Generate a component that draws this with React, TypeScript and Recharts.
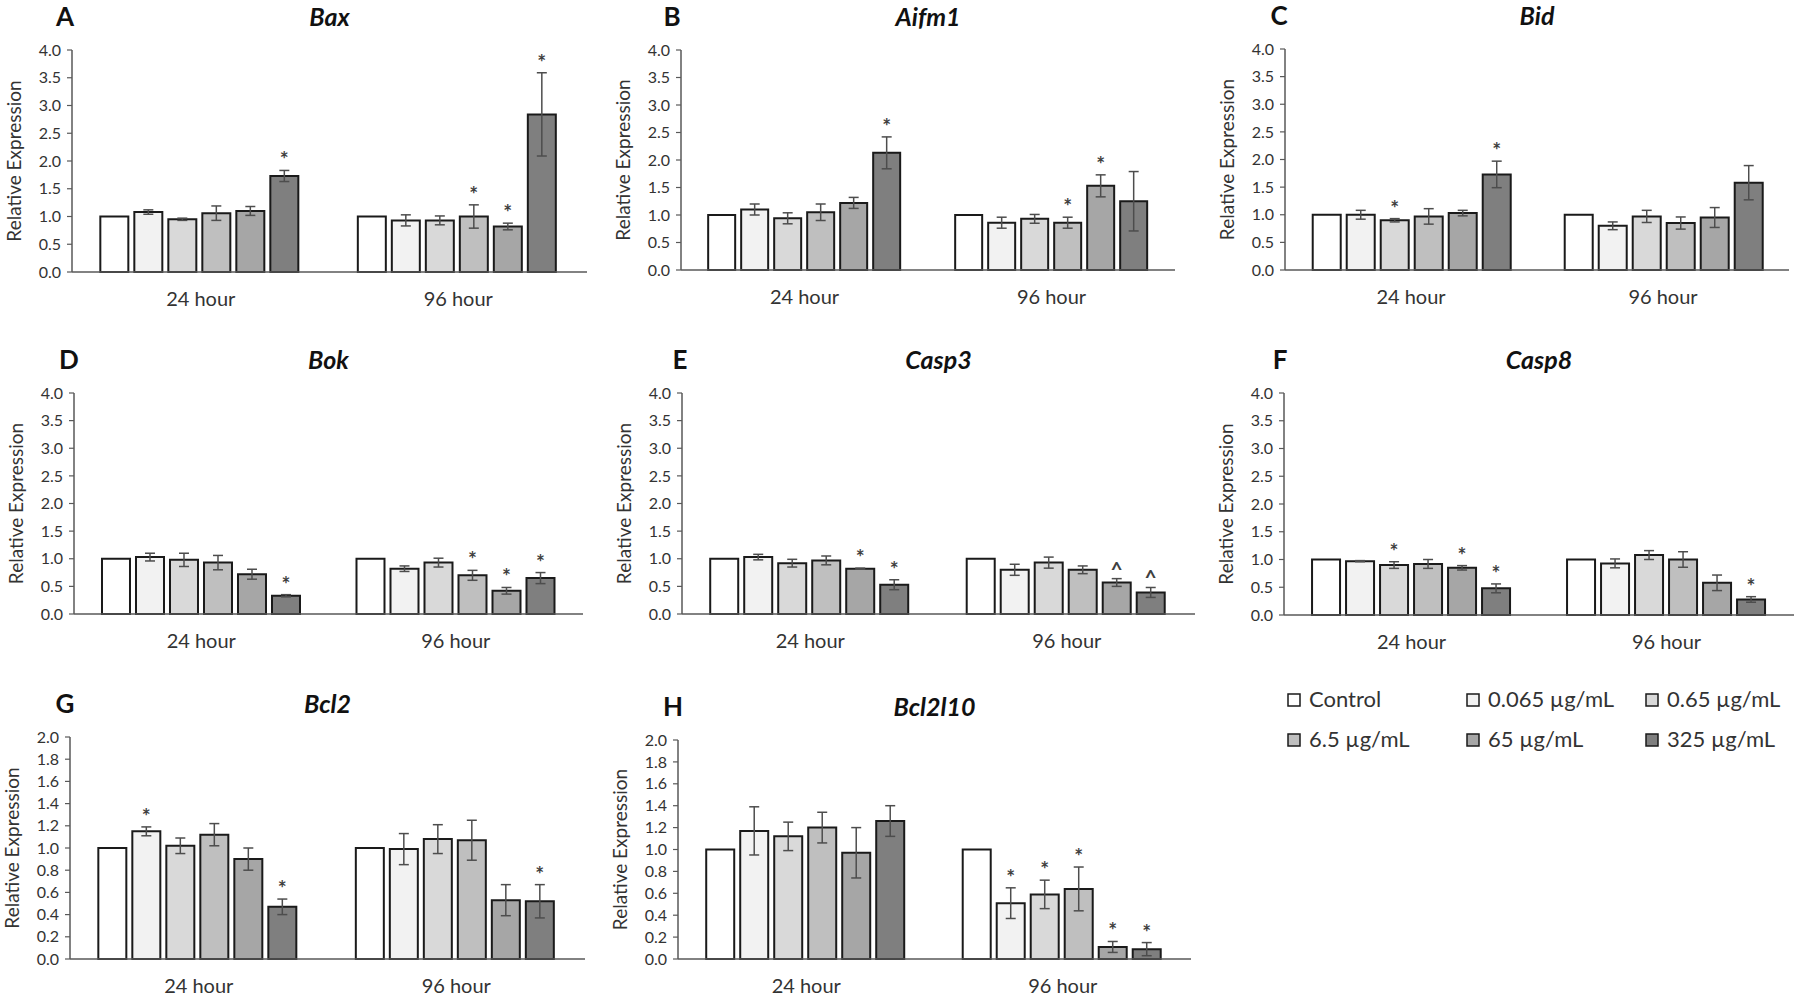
import React from 'react'
import { BarChart, Bar, XAxis, YAxis, ErrorBar, LabelList } from 'recharts'

const categories = ['24 hour', '96 hour']
const seriesNames = ['Control', '0.065 µg/mL', '0.65 µg/mL', '6.5 µg/mL', '65 µg/mL', '325 µg/mL']
const seriesFills = ['#ffffff', '#f2f2f2', '#d9d9d9', '#bfbfbf', '#a6a6a6', '#7f7f7f']

const ticksTo4 = [0, 0.5, 1, 1.5, 2, 2.5, 3, 3.5, 4]
const ticksTo2 = [0, 0.2, 0.4, 0.6, 0.8, 1, 1.2, 1.4, 1.6, 1.8, 2]

// rows: [24 hour, 96 hour], columns follow seriesNames
const baxMean = [[1.0, 1.08, 0.95, 1.06, 1.1, 1.73], [1.0, 0.93, 0.93, 1.0, 0.82, 2.84]]
const baxErr = [[0, 0.04, 0.02, 0.13, 0.08, 0.1], [0, 0.1, 0.08, 0.21, 0.06, 0.75]]
const baxSig = [['', '', '', '', '', '*'], ['', '', '', '*', '*', '*']]

const aifm1Mean = [[1.0, 1.1, 0.94, 1.05, 1.22, 2.13], [1.0, 0.86, 0.93, 0.86, 1.53, 1.25]]
const aifm1Err = [[0, 0.1, 0.1, 0.15, 0.1, 0.29], [0, 0.1, 0.08, 0.1, 0.2, 0.54]]
const aifm1Sig = [['', '', '', '', '', '*'], ['', '', '', '*', '*', '']]

const bidMean = [[1.0, 1.0, 0.9, 0.97, 1.03, 1.73], [1.0, 0.8, 0.97, 0.85, 0.95, 1.58]]
const bidErr = [[0, 0.08, 0.03, 0.14, 0.05, 0.24], [0, 0.07, 0.11, 0.11, 0.18, 0.31]]
const bidSig = [['', '', '*', '', '', '*'], ['', '', '', '', '', '']]

const bokMean = [[1.0, 1.03, 0.98, 0.93, 0.72, 0.33], [1.0, 0.82, 0.93, 0.7, 0.42, 0.65]]
const bokErr = [[0, 0.07, 0.12, 0.13, 0.09, 0.02], [0, 0.05, 0.08, 0.09, 0.06, 0.1]]
const bokSig = [['', '', '', '', '', '*'], ['', '', '', '*', '*', '*']]

const casp3Mean = [[1.0, 1.03, 0.92, 0.97, 0.82, 0.53], [1.0, 0.8, 0.93, 0.8, 0.57, 0.39]]
const casp3Err = [[0, 0.05, 0.07, 0.08, 0.01, 0.09], [0, 0.1, 0.1, 0.07, 0.07, 0.09]]
const casp3Sig = [['', '', '', '', '*', '*'], ['', '', '', '', '^', '^']]

const casp8Mean = [[1.0, 0.97, 0.9, 0.92, 0.85, 0.48], [1.0, 0.93, 1.08, 1.0, 0.58, 0.28]]
const casp8Err = [[0, 0.01, 0.06, 0.08, 0.04, 0.08], [0, 0.08, 0.08, 0.14, 0.14, 0.05]]
const casp8Sig = [['', '', '*', '', '*', '*'], ['', '', '', '', '', '*']]

const bcl2Mean = [[1.0, 1.15, 1.02, 1.12, 0.9, 0.47], [1.0, 0.99, 1.08, 1.07, 0.53, 0.52]]
const bcl2Err = [[0, 0.04, 0.07, 0.1, 0.1, 0.07], [0, 0.14, 0.13, 0.18, 0.14, 0.15]]
const bcl2Sig = [['', '*', '', '', '', '*'], ['', '', '', '', '', '*']]

const bcl2l10Mean = [[1.0, 1.17, 1.12, 1.2, 0.97, 1.26], [1.0, 0.51, 0.59, 0.64, 0.11, 0.09]]
const bcl2l10Err = [[0, 0.22, 0.13, 0.14, 0.23, 0.14], [0, 0.14, 0.13, 0.2, 0.05, 0.06]]
const bcl2l10Sig = [['', '', '', '', '', ''], ['', '*', '*', '*', '*', '*']]

const FONT = 'Lato, "Open Sans", sans-serif'
const AXIS = '#595959'
const TEXT = '#333333'

type PanelProps = {
  letter: string
  title: string
  mean: number[][]
  err: number[][]
  sig: string[][]
  yMax: number
  ticks: number[]
  plot: [number, number, number, number] // left, top, right, bottom of plot area (page px)
  letterX: number
}

const AXIS_W = 72
const TOP_SPACE = 50

function buildRows(mean: number[][], err: number[][], sig: string[][]) {
  return categories.map((name, i) => {
    const row: Record<string, any> = { name }
    seriesNames.forEach((_, j) => {
      row['v' + j] = mean[i][j]
      row['e' + j] = err[i][j]
      row['s' + j] = sig[i][j]
    })
    return row
  })
}

function Panel({ letter, title, mean, err, sig, yMax, ticks, plot, letterX }: PanelProps) {
  const [pl, pt, pr, pb] = plot
  const left = pl - AXIS_W
  const top = pt - TOP_SPACE
  const width = pr - left + 6
  const height = pb - top + 48
  const rows = buildRows(mean, err, sig)

  // marker sits above the error bar, using the bar's own pixel scale
  const sigLabel = (j: number) => (props: any) => {
    const { x, y, width: w, height: h, index } = props
    const mark = sig[index]?.[j]
    if (!mark) return null
    const v = mean[index][j]
    const e = err[index][j]
    const pxPerUnit = v ? h / v : 0
    const errTop = y - e * pxPerUnit
    return (
      <text x={x + w / 2} y={errTop - (mark === '^' ? 2 : 3)} textAnchor="middle" fontSize={21} fontWeight={700}
        fill="#404040" fontFamily={FONT}>
        {mark}
      </text>
    )
  }

  return (
    <div style={{ position: 'absolute', left, top, width, height }}>
      <div style={{
        position: 'absolute', left: letterX - left - 20, width: 40, top: 1, textAlign: 'center',
        fontFamily: FONT, fontWeight: 700, fontSize: 26, color: '#111', lineHeight: '30px'
      }}>{letter}</div>
      <div style={{
        position: 'absolute', left: AXIS_W - 100, width: pr - pl + 200, top: 1, textAlign: 'center',
        fontFamily: FONT, fontWeight: 700, fontStyle: 'italic', fontSize: 25, color: '#111', lineHeight: '30px'
      }}>{title}</div>
      <BarChart width={width} height={height} data={rows}
        margin={{ top: TOP_SPACE, right: 6, bottom: 0, left: 0 }}
        barCategoryGap="11%" barGap={6}>
        <XAxis dataKey="name" height={48} tickLine={false} tickSize={6} tickMargin={14}
          axisLine={{ stroke: AXIS, strokeWidth: 1.5 }}
          tick={{ fill: TEXT, fontSize: 20, fontFamily: FONT }} />
        <YAxis width={AXIS_W} domain={[0, yMax]} ticks={ticks} interval={0}
          tickFormatter={(v: number) => v.toFixed(1)}
          tickSize={5} tickMargin={6}
          axisLine={{ stroke: AXIS, strokeWidth: 1.5 }}
          tickLine={{ stroke: AXIS, strokeWidth: 1.2 }}
          tick={{ fill: TEXT, fontSize: 16, fontFamily: FONT }}
          label={{
            value: 'Relative Expression', angle: -90, position: 'insideLeft', offset: 14,
            textAnchor: 'middle', fill: TEXT, fontSize: 19, fontFamily: FONT
          }} />
        {seriesNames.map((n, j) => (
          <Bar key={n} dataKey={'v' + j} name={n} fill={seriesFills[j]} stroke="#1a1a1a"
            strokeWidth={2} isAnimationActive={false}>
            <ErrorBar dataKey={'e' + j} width={5} stroke="#4d4d4d" strokeWidth={1.5} direction="y" />
            <LabelList dataKey={'s' + j} content={sigLabel(j)} />
          </Bar>
        ))}
      </BarChart>
    </div>
  )
}

const legendCols = [1288, 1467, 1646]
const legendRows = [700, 740]

function Legend() {
  return (
    <svg width={1800} height={999} style={{ position: 'absolute', left: 0, top: 0, pointerEvents: 'none' }}>
      {seriesNames.map((n, j) => {
        const cx = legendCols[j % 3]
        const cy = legendRows[Math.floor(j / 3)]
        return (
          <g key={n}>
            <rect x={cx} y={cy - 6} width={12} height={12} fill={seriesFills[j]} stroke="#1a1a1a" strokeWidth={1.5} />
            <text x={cx + 21} y={cy + 7} fontSize={22} fontFamily={FONT} fill={TEXT}>{n}</text>
          </g>
        )
      })}
    </svg>
  )
}

export default function App() {
  return (
    <div style={{ position: 'absolute', left: 0, top: 0, width: 1800, height: 999, background: '#fff' }}>
      <Panel letter="A" title="Bax" mean={baxMean} err={baxErr} sig={baxSig} yMax={4} ticks={ticksTo4}
        plot={[72, 50, 587, 272]} letterX={65} />
      <Panel letter="B" title="Aifm1" mean={aifm1Mean} err={aifm1Err} sig={aifm1Sig} yMax={4} ticks={ticksTo4}
        plot={[681, 50, 1175, 270]} letterX={672} />
      <Panel letter="C" title="Bid" mean={bidMean} err={bidErr} sig={bidSig} yMax={4} ticks={ticksTo4}
        plot={[1285, 49, 1789, 270]} letterX={1279} />
      <Panel letter="D" title="Bok" mean={bokMean} err={bokErr} sig={bokSig} yMax={4} ticks={ticksTo4}
        plot={[74, 393, 583, 614]} letterX={69} />
      <Panel letter="E" title="Casp3" mean={casp3Mean} err={casp3Err} sig={casp3Sig} yMax={4} ticks={ticksTo4}
        plot={[682, 393, 1195, 614]} letterX={680} />
      <Panel letter="F" title="Casp8" mean={casp8Mean} err={casp8Err} sig={casp8Sig} yMax={4} ticks={ticksTo4}
        plot={[1284, 393, 1794, 615]} letterX={1280} />
      <Panel letter="G" title="Bcl2" mean={bcl2Mean} err={bcl2Err} sig={bcl2Sig} yMax={2} ticks={ticksTo2}
        plot={[70, 737, 585, 959]} letterX={65} />
      <Panel letter="H" title="Bcl2l10" mean={bcl2l10Mean} err={bcl2l10Err} sig={bcl2l10Sig} yMax={2} ticks={ticksTo2}
        plot={[678, 740, 1191, 959]} letterX={673} />
      <Legend />
    </div>
  )
}
